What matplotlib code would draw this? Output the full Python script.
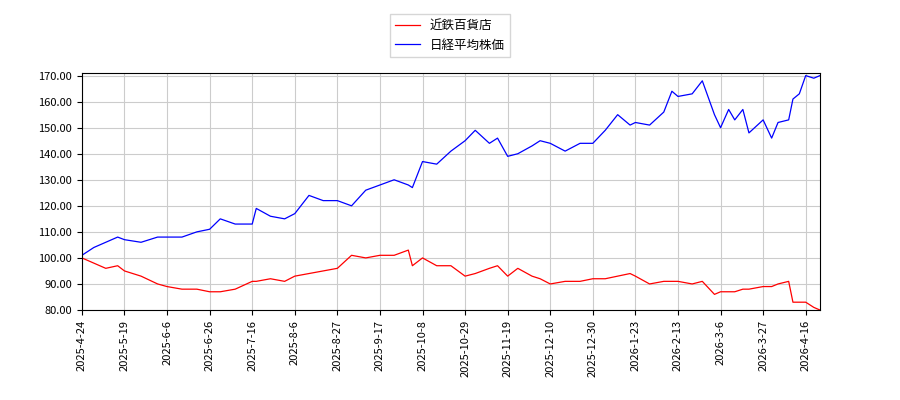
import numpy as np
import pandas as pd
import matplotlib.pyplot as plt

plt.rcParams['font.family'] = ['Noto Sans CJK JP', 'DejaVu Sans']

dates = ['2025-04-24', '2025-05-01', '2025-05-08', '2025-05-15', '2025-05-19', '2025-05-26',
         '2025-06-02', '2025-06-06', '2025-06-13', '2025-06-20', '2025-06-26', '2025-07-01',
         '2025-07-08', '2025-07-16', '2025-07-18', '2025-07-25', '2025-08-01', '2025-08-06',
         '2025-08-13', '2025-08-20', '2025-08-27', '2025-09-03', '2025-09-10', '2025-09-17',
         '2025-09-24', '2025-10-01', '2025-10-03', '2025-10-08', '2025-10-15', '2025-10-22',
         '2025-10-29', '2025-11-03', '2025-11-10', '2025-11-14', '2025-11-19', '2025-11-24',
         '2025-12-01', '2025-12-05', '2025-12-10', '2025-12-17', '2025-12-24', '2025-12-30',
         '2026-01-06', '2026-01-13', '2026-01-20', '2026-01-23', '2026-01-30', '2026-02-06',
         '2026-02-10', '2026-02-13', '2026-02-20', '2026-02-25', '2026-03-03', '2026-03-06',
         '2026-03-10', '2026-03-13', '2026-03-17', '2026-03-20', '2026-03-27', '2026-03-31',
         '2026-04-03', '2026-04-08', '2026-04-10', '2026-04-13', '2026-04-16', '2026-04-20',
         '2026-04-23']
nikkei = [101, 104, 106, 108, 107, 106, 108, 108, 108, 110, 111, 115,
          113, 113, 119, 116, 115, 117, 124, 122, 122, 120, 126, 128,
          130, 128, 127, 137, 136, 141, 145, 149, 144, 146, 139, 140,
          143, 145, 144, 141, 144, 144, 149, 155, 151, 152, 151, 156,
          164, 162, 163, 168, 155, 150, 157, 153, 157, 148, 153, 146,
          152, 153, 161, 163, 170, 169, 170]
kintetsu = [100, 98, 96, 97, 95, 93, 90, 89, 88, 88, 87, 87,
            88, 91, 91, 92, 91, 93, 94, 95, 96, 101, 100, 101,
            101, 103, 97, 100, 97, 97, 93, 94, 96, 97, 93, 96,
            93, 92, 90, 91, 91, 92, 92, 93, 94, 93, 90, 91,
            91, 91, 90, 91, 86, 87, 87, 87, 88, 88, 89, 89,
            90, 91, 83, 83, 83, 81, 80]
tick_dates = ['2025-4-24', '2025-5-19', '2025-6-6', '2025-6-26', '2025-7-16', '2025-8-6',
              '2025-8-27', '2025-9-17', '2025-10-8', '2025-10-29', '2025-11-19', '2025-12-10',
              '2025-12-30', '2026-1-23', '2026-2-13', '2026-3-6', '2026-3-27', '2026-4-16']
last_date = '2026-04-23'

# the axis is in trading days: one tick every 15 sessions
tick_idx = list(range(0, 15 * len(tick_dates), 15)) + [15 * (len(tick_dates) - 1) + 5]
tick_ord = [pd.Timestamp(d).toordinal() for d in tick_dates + [last_date]]
x = np.interp([pd.Timestamp(d).toordinal() for d in dates], tick_ord, tick_idx)

fig = plt.figure(figsize=(9, 4), dpi=100)
ax = fig.add_axes([0.091, 0.225, 0.82, 0.5925])
ax.plot(x, kintetsu, color='red', lw=0.9, label='近鉄百貨店')
ax.plot(x, nikkei, color='blue', lw=0.9, label='日経平均株価')
ax.set_ylim(80, 171)
ax.set_yticks(np.arange(80, 171, 10))
ax.yaxis.set_major_formatter(plt.FuncFormatter(lambda v, p: f'{v:.2f}'))
ax.set_xlim(0, tick_idx[-1])
ax.set_xticks(tick_idx[:-1])
ax.set_xticklabels(tick_dates, rotation=90)
ax.tick_params(labelsize=8)
ax.grid(True, color='#cccccc', lw=0.8)
fig.legend(loc='upper center', bbox_to_anchor=(0.5, 0.98), fontsize=9, fancybox=False)
fig.savefig('out.png')
